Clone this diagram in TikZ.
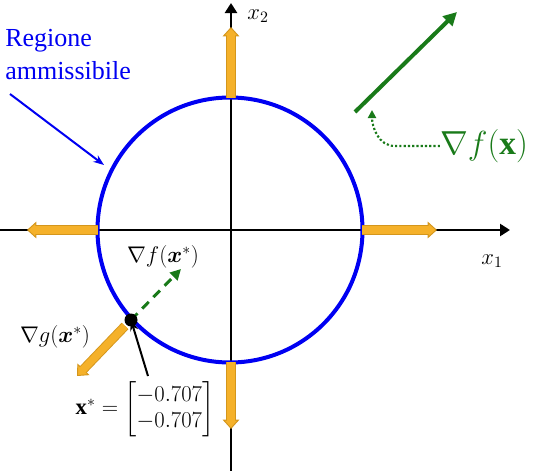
\documentclass[tikz,border=0pt]{standalone}
\usepackage{fix-cm}
\usepackage{amsmath}
\usepackage{fontspec}
\setmainfont{Liberation Serif}
\definecolor{RegBlue}{HTML}{0000F2}
\definecolor{GradGreen}{HTML}{197A19}
\definecolor{GradFill}{HTML}{F5B12A}
\definecolor{GradEdge}{HTML}{D4961C}
\usetikzlibrary{arrows.meta}

\newcommand\gradarrow[2]{%
  \draw[gradout] (#1) -- (#2);
  \draw[gradin]  (#1) -- (#2);}

\begin{document}
\begin{tikzpicture}[
  x=0.75pt, y=-0.75pt,
  axis/.style={line width=1.9pt, -{Triangle[length=7.5pt, width=9pt]}},
  region/.style={RegBlue, line width=3pt},
  gradout/.style={line width=7pt, GradEdge,
    -{Triangle[length=7pt, width=12.5pt, line width=0.7pt 0, fill=GradFill]}},
  gradin/.style={line width=5.6pt, GradFill, shorten >=6pt},
  fgrad/.style={GradGreen, line width=3pt, -{Triangle[length=10pt, width=10pt]}},
  fdash/.style={GradGreen, line width=2.2pt, dash pattern=on 7pt off 5pt,
    -{Triangle[length=8pt, width=8pt]}},
  fdot/.style={GradGreen, line width=1.6pt, dash pattern=on 1.6pt off 1.6pt,
    -{Triangle[length=6pt, width=6pt]}},
  pointer/.style={line width=1.5pt, -{Stealth[length=8pt, width=6pt]}},
  lbl/.style={inner sep=0pt, font=\fontsize{17pt}{20pt}\selectfont},
]
\useasboundingbox (0,0) rectangle (533,471);

% axes and feasible region
\coordinate (O)  at (230,230);
\coordinate (xa) at (0,230);
\coordinate (xb) at (510,230);
\coordinate (ya) at (231,471);
\coordinate (yb) at (231,3);
\draw[axis] (xa) -- (xb);
\draw[axis] (ya) -- (yb);
\draw[region] (O) circle[radius=132.5];

\node[lbl] (x1) at (492,261) {$x_1$};
\node[lbl] (x2) at (258,16)  {$x_2$};

% gradients of g on the boundary
\coordinate (gt0) at (231,98);  \coordinate (gt1) at (231,27);
\coordinate (gr0) at (362,230); \coordinate (gr1) at (437,230);
\coordinate (gl0) at (98,230);  \coordinate (gl1) at (27,230);
\coordinate (gb0) at (231,362); \coordinate (gb1) at (231,429);
\gradarrow{gt0}{gt1}
\gradarrow{gr0}{gr1}
\gradarrow{gl0}{gl1}
\gradarrow{gb0}{gb1}

% optimum
\coordinate (xs) at (131,320);
\coordinate (gs0) at (125,326);
\coordinate (gs) at (77,376);
\coordinate (fs) at (181,269);
\gradarrow{gs0}{gs}
\draw[fdash] (xs) -- (fs);
\fill (xs) circle[radius=6.5];

\node[lbl] (fslbl) at (163,257) {$\nabla f(\boldsymbol{x}^{*})$};
\node[lbl] (gslbl) at (55,337)  {$\nabla g(\boldsymbol{x}^{*})$};
\node[inner sep=0pt, font=\fontsize{17pt}{20pt}\selectfont] (xstar) at (145,409)
  {$\mathbf{x}^{*}=\begin{bmatrix}-0.707\\-0.707\end{bmatrix}$};
\coordinate (ptr) at (148,376);
\draw[pointer] (ptr) -- (xs);

% feasible region label
\node[RegBlue, inner sep=0pt, anchor=north west, align=left,
  font=\fontsize{19.5pt}{24.5pt}\selectfont] (reg) at (5,29)
  {Regione\\ammissibile};
\coordinate (rega) at (10,94);
\coordinate (regb) at (104,165);
\draw[pointer, RegBlue] (rega) -- (regb);

% gradient of f
\coordinate (f0) at (355,112);
\coordinate (f1) at (457,12);
\draw[fgrad] (f0) -- (f1);
\node[GradGreen, inner sep=0pt, font=\fontsize{25pt}{30pt}\selectfont]
  (flbl) at (484,146) {$\nabla f(\mathbf{x})$};
\coordinate (fp) at (372,110);
\draw[fdot] (flbl.west) -- ++(-45,0) to[out=180, in=-90] (fp);
\end{tikzpicture}
\end{document}
